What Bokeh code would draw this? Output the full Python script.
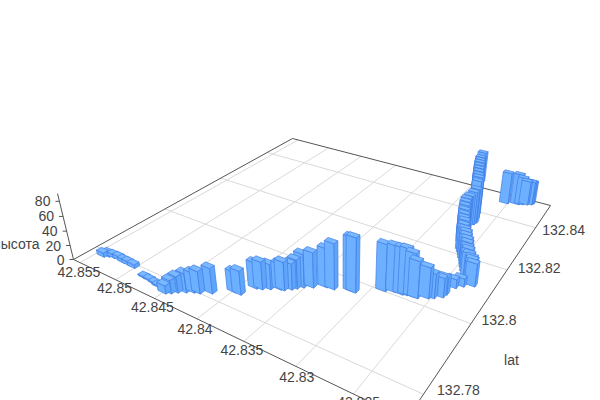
import numpy as np
from bokeh.plotting import figure
from bokeh.models import Range1d
from bokeh.core.properties import value
from bokeh.embed import file_html
from bokeh.resources import INLINE

lat_ticks = [42.855, 42.85, 42.845, 42.84, 42.835, 42.83, 42.825]
lon_ticks = [132.84, 132.82, 132.8, 132.78]
z_ticks = [0, 20, 40, 60, 80]

lat_vals = [42.8543,42.8539,42.8533,42.8526,42.8518,42.8512,42.8504,42.8483,42.8476,42.8468,42.8462,42.8451,42.8447,42.8443,42.8437,42.8431,42.8426,42.8417,42.8401,42.8395,42.8389,42.8384,42.8378,42.8370,42.8367,42.8362,42.8359,42.8355,42.8348,42.8338,42.8331,42.8316,42.8313,42.8292,42.8284,42.8277,42.8273,42.8268,42.8264,42.8256,42.8252,42.8246,42.8245,42.8242,42.8237,42.8229,
            42.8231,42.8233,42.8237,42.8240,42.8243,42.8245,42.8247,42.8250,42.8252,42.8255,42.8258,42.8260,42.8263,42.8265,42.8267,42.8269,42.8271,42.8272,42.8271,42.8269,42.8268,42.8270,42.8272,42.8275,42.8278,42.8281,42.8284,42.8287,42.8290,42.8293,42.8296,
            42.8254,42.8243,42.8239,42.8235,42.8231,42.8230]
lon_vals = [132.7788,132.7794,132.7797,132.7798,132.7796,132.7796,132.7795,132.7782,132.7781,132.7779,132.7776,132.7769,132.7775,132.7784,132.7793,132.7801,132.7805,132.7818,132.7845,132.7845,132.7877,132.7881,132.7890,132.7900,132.7902,132.7912,132.7920,132.7930,132.7940,132.7955,132.7957,132.7971,132.7971,132.8006,132.8014,132.8015,132.8018,132.8020,132.8020,132.8031,132.8037,132.8049,132.8061,132.8090,132.8103,132.8115,
            132.8121,132.8130,132.8139,132.8151,132.8164,132.8174,132.8184,132.8194,132.8204,132.8214,132.8225,132.8240,132.8254,132.8266,132.8278,132.8291,132.8305,132.8317,132.8329,132.8341,132.8352,132.8368,132.8385,132.8402,132.8422,132.8442,132.8462,132.8483,132.8505,132.8527,132.8561,
            132.8483,132.8493,132.8498,132.8503,132.8509,132.8516]
height_vals = [6,6,5,5,5,5,5,2,2,2,2,11,18,22,26,27,30,34,28,32,35,37,34,35,38,35,39,45,47,52,61,71,72,62,61,61,61,57,49,41,33,26,23,12,11,31,
               33,32,32,33,31,33,34,35,36,36,37,38,37,38,40,42,43,44,45,48,50,57,58,57,56,55,54,53,51,49,48,
               47,46,41,36,35,33]

LAT_MAX, LAT_MIN = 42.85595, 42.82086
LON_MIN, LON_MAX = 132.7741, 132.8525
Z_TOP = 90
BAR_DLAT, BAR_DLON = 0.0010, 0.0013

CL, CB, CR, CF = (73, 259), (292, 138), (550, 205), (406, 419)
VP = (342, 1370)
Z_SCALE = -0.000622


def hom(p):
    return np.array([p[0], p[1], 1.0])


wR, wF, wB = np.linalg.solve(np.array([hom(CR), -hom(CF), -hom(CB)]).T, -hom(CL))
O = hom(CL)
U = wF * hom(CF) - O
V = wB * hom(CB) - O
W = hom(VP) * Z_SCALE


def project(lat, lon, z=0.0):
    u = (LAT_MAX - lat) / (LAT_MAX - LAT_MIN)
    v = (lon - LON_MIN) / (LON_MAX - LON_MIN)
    h = O + u * U + v * V + z * W
    return h[0] / h[2], h[1] / h[2]


def depth(lat, lon):
    u = (LAT_MAX - lat) / (LAT_MAX - LAT_MIN)
    v = (lon - LON_MIN) / (LON_MAX - LON_MIN)
    return (O + u * U + v * V)[2]


p = figure(width=600, height=400, x_range=Range1d(0, 600), y_range=Range1d(400, 0),
           x_axis_type=None, y_axis_type=None, toolbar_location=None,
           output_backend="svg", min_border=0, outline_line_color=None,
           background_fill_color="white", border_fill_color="white")
p.grid.visible = False

gx, gy = [], []
for la in lat_ticks:
    a, b = project(la, LON_MIN), project(la, LON_MAX)
    gx.append([a[0], b[0]]); gy.append([a[1], b[1]])
for lo in lon_ticks:
    a, b = project(LAT_MAX, lo), project(LAT_MIN, lo)
    gx.append([a[0], b[0]]); gy.append([a[1], b[1]])
p.multi_line(gx, gy, line_color="#d9d9d9", line_width=1)

corners = [(LAT_MAX, LON_MIN), (LAT_MIN, LON_MIN), (LAT_MIN, LON_MAX), (LAT_MAX, LON_MAX), (LAT_MAX, LON_MIN)]
cp = [project(a, b) for a, b in corners]
p.line([c[0] for c in cp], [c[1] for c in cp], line_color="#555555", line_width=1)
zb, zt = project(LAT_MAX, LON_MIN, 0), project(LAT_MAX, LON_MIN, Z_TOP)
p.line([zb[0], zt[0]], [zb[1], zt[1]], line_color="#555555", line_width=1)
ztx, zty = [], []
for z in z_ticks:
    t = project(LAT_MAX, LON_MIN, z)
    ztx.append([t[0], t[0] - 4]); zty.append([t[1], t[1]])
p.multi_line(ztx, zty, line_color="#555555", line_width=1)

order = sorted(range(len(lat_vals)), key=lambda i: -depth(lat_vals[i], lon_vals[i]))
xs, ys, fills = [], [], []
for i in order:
    la0, la1 = lat_vals[i] + BAR_DLAT / 2, lat_vals[i] - BAR_DLAT / 2
    lo0, lo1 = lon_vals[i] - BAR_DLON / 2, lon_vals[i] + BAR_DLON / 2
    z = height_vals[i]
    front = [(la0, lo0, 0), (la1, lo0, 0), (la1, lo0, z), (la0, lo0, z)]
    side = [(la1, lo0, 0), (la1, lo1, 0), (la1, lo1, z), (la1, lo0, z)]
    top = [(la0, lo0, z), (la1, lo0, z), (la1, lo1, z), (la0, lo1, z)]
    for face, col in ((front, "#6cb0ff"), (side, "#5fa6fb"), (top, "#7ab8ff")):
        pts = [project(*q) for q in face]
        xs.append([q[0] for q in pts]); ys.append([q[1] for q in pts]); fills.append(col)
p.patches(xs, ys, fill_color=fills, line_color="#3f7de6", line_width=0.8, line_alpha=0.85)

font = value("Liberation Sans")
lat_off = [(-1, 9), (-1, 8), (-2, 9), (-2, 10), (-2, 9), (1, 11), (5, 8)]
lon_off = [(28, 2), (32, -2), (28, -4), (35, -4)]
tx, ty, tt = [], [], []
for la, o in zip(lat_ticks, lat_off):
    a = project(la, LON_MIN)
    tx.append(a[0] + o[0]); ty.append(a[1] + o[1]); tt.append(f"{la:g}")
for lo, o in zip(lon_ticks, lon_off):
    a = project(LAT_MIN, lo)
    tx.append(a[0] + o[0]); ty.append(a[1] + o[1]); tt.append(f"{lo:g}")
p.text(tx, ty, text=tt, text_font=font, text_font_size="14px", text_color="#444444",
       text_align="center", text_baseline="middle")
zx, zy, zl = [], [], []
for z in z_ticks:
    a = project(LAT_MAX, LON_MIN, z)
    zx.append(a[0] - 9); zy.append(a[1]); zl.append(str(z))
p.text(zx, zy, text=zl, text_font=font, text_font_size="14px", text_color="#444444",
       text_align="right", text_baseline="middle")
p.text([39], [243], text=["высота"], text_font=font, text_font_size="14px", text_color="#444444",
       text_align="right", text_baseline="middle")
p.text([511], [359], text=["lat"], text_font=font, text_font_size="14px", text_color="#444444",
       text_align="center", text_baseline="middle")

open("out.html", "w").write(file_html(p, INLINE))
